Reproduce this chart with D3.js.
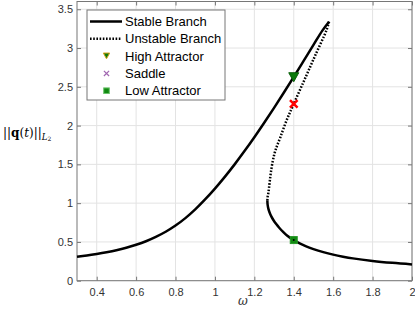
<!DOCTYPE html>
<html>
<head>
<meta charset="utf-8">
<script src="https://cdn.jsdelivr.net/npm/d3@7"></script>
<style>
  body { margin: 0; background: #fff; }
  svg { display: block; }
</style>
</head>
<body>
<svg id="chart" width="415" height="314"></svg>
<script>
// stable branch, from low frequency up to the peak
const stableOmega = [0.3, 0.35, 0.4, 0.45, 0.5, 0.55, 0.6, 0.65, 0.7, 0.75, 0.8, 0.85, 0.9, 0.95, 1.0, 1.05, 1.1, 1.15, 1.2, 1.25, 1.3, 1.35, 1.4, 1.45, 1.5, 1.545, 1.579];
const stableAmp = [0.31, 0.325, 0.344, 0.366, 0.392, 0.424, 0.463, 0.509, 0.565, 0.631, 0.711, 0.807, 0.92, 1.048, 1.188, 1.339, 1.5, 1.671, 1.85, 2.037, 2.229, 2.427, 2.629, 2.834, 3.04, 3.225, 3.34];

// unstable branch, peak down to the fold
const unstableOmega = [1.579, 1.566, 1.508, 1.456, 1.4, 1.364, 1.332, 1.307, 1.294, 1.284, 1.279, 1.2745, 1.271, 1.2673, 1.266];
const unstableAmp = [3.34, 3.23, 2.9, 2.6, 2.28, 2.07, 1.85, 1.68, 1.55, 1.40, 1.30, 1.20, 1.13, 1.08, 1.03];

// stable branch after the fold
const lowOmega = [1.266, 1.2673, 1.271, 1.2773, 1.286, 1.2973, 1.311, 1.3273, 1.346, 1.3673, 1.4, 1.43, 1.46, 1.5, 1.55, 1.6, 1.65, 1.7, 1.8, 1.9, 2.0];
const lowAmp = [1.03, 0.98, 0.93, 0.88, 0.83, 0.78, 0.73, 0.68, 0.63, 0.58, 0.524, 0.48, 0.445, 0.407, 0.368, 0.336, 0.31, 0.288, 0.255, 0.23, 0.21];

const markerOmega = 1.4;
const highAttractor = 2.63;
const saddle = 2.28;
const lowAttractor = 0.524;

const xTicks = [0.4, 0.6, 0.8, 1, 1.2, 1.4, 1.6, 1.8, 2];
const yTicks = [0, 0.5, 1, 1.5, 2, 2.5, 3, 3.5];
const legendLabels = ['Stable Branch', 'Unstable Branch', 'High Attractor', 'Saddle', 'Low Attractor'];

const svg = d3.select('#chart');
const plotLeft = 77, plotRight = 412, plotTop = 1.5, plotBottom = 280.7;
const font = '"Liberation Sans", Arial, Helvetica, sans-serif';

const x = d3.scaleLinear().domain([0.3, 2]).range([plotLeft, plotRight]);
const y = d3.scaleLinear().domain([0, 3.6]).range([plotBottom, plotTop]);

// grid
svg.append('g').selectAll('line')
  .data(xTicks)
  .enter().append('line')
    .attr('x1', d => x(d)).attr('x2', d => x(d))
    .attr('y1', plotTop).attr('y2', plotBottom)
    .attr('stroke', '#e3e3e3').attr('stroke-width', 1);
svg.append('g').selectAll('line')
  .data(yTicks)
  .enter().append('line')
    .attr('x1', plotLeft).attr('x2', plotRight)
    .attr('y1', d => y(d)).attr('y2', d => y(d))
    .attr('stroke', '#e3e3e3').attr('stroke-width', 1);

// axes, ticks inward on all four sides
const axisColor = '#777';
svg.append('g').attr('transform', `translate(0,${plotBottom})`)
  .call(d3.axisBottom(x).tickValues(xTicks).tickSizeInner(-4).tickSizeOuter(0).tickPadding(8).tickFormat(d3.format('')));
svg.append('g').attr('transform', `translate(0,${plotTop})`)
  .call(d3.axisTop(x).tickValues(xTicks).tickSizeInner(-4).tickSizeOuter(0).tickFormat(''));
svg.append('g').attr('transform', `translate(${plotLeft},0)`)
  .call(d3.axisLeft(y).tickValues(yTicks).tickSizeInner(-4).tickSizeOuter(0).tickPadding(4).tickFormat(d3.format('')));
svg.append('g').attr('transform', `translate(${plotRight},0)`)
  .call(d3.axisRight(y).tickValues(yTicks).tickSizeInner(-4).tickSizeOuter(0).tickFormat(''));

svg.selectAll('.domain').remove();
svg.selectAll('.tick line').attr('stroke', axisColor);
svg.selectAll('.tick text')
  .attr('font-family', font).attr('font-size', 11).attr('fill', '#333');

svg.append('rect')
  .attr('x', plotLeft).attr('y', plotTop)
  .attr('width', plotRight - plotLeft).attr('height', plotBottom - plotTop)
  .attr('fill', 'none').attr('stroke', axisColor).attr('stroke-width', 1);

// curves
const line = d3.line()
  .x(d => x(d[0]))
  .y(d => y(d[1]))
  .curve(d3.curveCatmullRom.alpha(0.5));

const stable = stableOmega.map((w, i) => [w, stableAmp[i]]);
const unstable = unstableOmega.map((w, i) => [w, unstableAmp[i]]);
const low = lowOmega.map((w, i) => [w, lowAmp[i]]);

svg.append('path').datum(stable)
  .attr('d', line).attr('fill', 'none')
  .attr('stroke', '#000').attr('stroke-width', 2.5);
svg.append('path').datum(unstable)
  .attr('d', line).attr('fill', 'none')
  .attr('stroke', '#000').attr('stroke-width', 2.5)
  .attr('stroke-dasharray', '1.6,1.6');
svg.append('path').datum(low)
  .attr('d', line).attr('fill', 'none')
  .attr('stroke', '#000').attr('stroke-width', 2.5);

// markers
function triangle(g, cx, cy, s, edge) {
  g.append('path')
    .attr('d', `M${cx - s},${cy - s * 0.8}L${cx + s},${cy - s * 0.8}L${cx},${cy + s}Z`)
    .attr('fill', '#0b7a0b').attr('stroke', edge).attr('stroke-width', 1);
}
function cross(g, cx, cy, s, color, w) {
  g.append('path')
    .attr('d', `M${cx - s},${cy - s}L${cx + s},${cy + s}M${cx - s},${cy + s}L${cx + s},${cy - s}`)
    .attr('stroke', color).attr('stroke-width', w).attr('fill', 'none');
}
function square(g, cx, cy, s, edge) {
  g.append('rect')
    .attr('x', cx - s).attr('y', cy - s)
    .attr('width', 2 * s).attr('height', 2 * s)
    .attr('fill', '#118a11').attr('stroke', edge).attr('stroke-width', 1);
}

const marks = svg.append('g');
triangle(marks, x(markerOmega), y(highAttractor), 5, '#0a5f0a');
cross(marks, x(markerOmega), y(saddle), 3.8, '#ff0000', 2.5);
square(marks, x(markerOmega), y(lowAttractor), 3.5, '#2a9a2a');
marks.append('circle')
  .attr('cx', x(markerOmega)).attr('cy', y(lowAttractor))
  .attr('r', 1).attr('fill', '#000');

// legend
const lg = svg.append('g');
lg.append('rect')
  .attr('x', 87).attr('y', 10).attr('width', 138).attr('height', 90)
  .attr('fill', '#fff').attr('stroke', axisColor).attr('stroke-width', 1);

legendLabels.forEach((label, i) => {
  const ly = 21.5 + i * 17.3;
  if (i === 0 || i === 1) {
    lg.append('line')
      .attr('x1', 90).attr('x2', 122).attr('y1', ly).attr('y2', ly)
      .attr('stroke', '#000').attr('stroke-width', 2.5)
      .attr('stroke-dasharray', i === 1 ? '1.6,1.6' : null);
  } else if (i === 2) {
    triangle(lg, 106.5, ly - 0.5, 3.2, '#d9a21b');
  } else if (i === 3) {
    cross(lg, 106.5, ly, 2.6, '#a066b0', 1.2);
  } else {
    square(lg, 106.5, ly, 2.8, '#6cc46c');
  }
  lg.append('text')
    .attr('x', 125).attr('y', ly + 4.5)
    .attr('font-family', font).attr('font-size', 13).attr('fill', '#000')
    .text(label);
});

// axis labels
svg.append('text')
  .attr('x', 243).attr('y', 305)
  .attr('text-anchor', 'middle')
  .attr('font-family', '"DejaVu Serif", serif').attr('font-style', 'italic')
  .attr('font-size', 12).attr('fill', '#333')
  .text('ω');

const yl = svg.append('text')
  .attr('x', 3).attr('y', 137)
  .attr('font-family', '"DejaVu Serif", serif')
  .attr('font-size', 12).attr('fill', '#000');
yl.append('tspan').text('||');
yl.append('tspan').attr('font-weight', 'bold').text('q');
yl.append('tspan').text('(');
yl.append('tspan').attr('font-style', 'italic').text('t');
yl.append('tspan').text(')||');
yl.append('tspan').attr('font-style', 'italic').attr('font-size', 8.5).attr('dy', 3).text('L');
yl.append('tspan').attr('font-size', 6).attr('dy', 1).text('2');
</script>
</body>
</html>
